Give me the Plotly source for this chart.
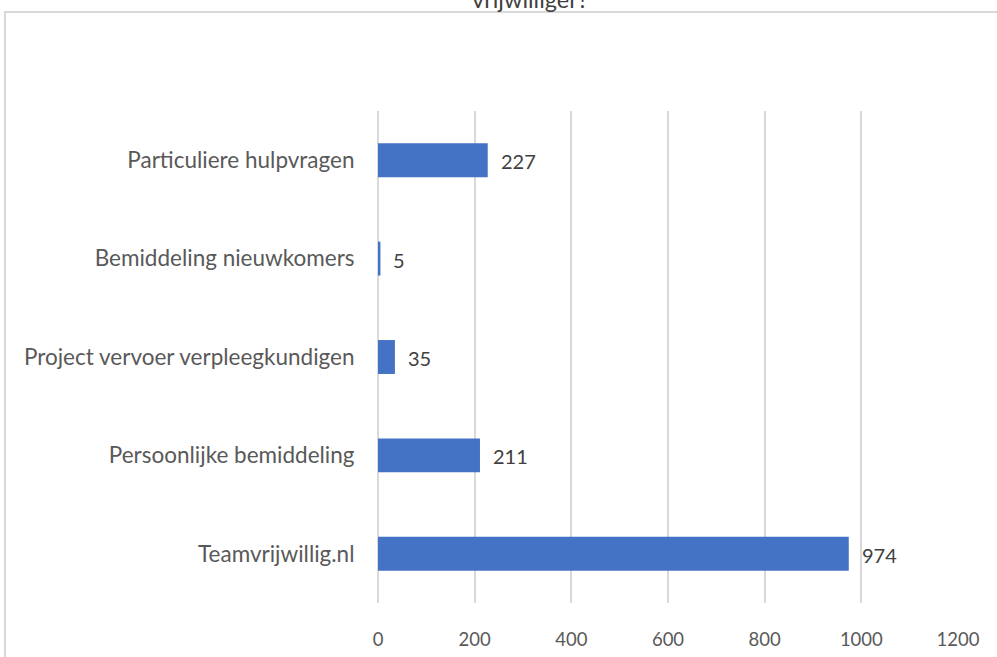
import plotly.graph_objects as go

categories = ["Teamvrijwillig.nl", "Persoonlijke bemiddeling", "Project vervoer verpleegkundigen",
              "Bemiddeling nieuwkomers", "Particuliere hulpvragen"]
values = [974, 211, 35, 5, 227]
x_ticks = [0, 200, 400, 600, 800, 1000, 1200]
title_text = "vrijwilliger?"

FONT = "Lato, 'Open Sans', sans-serif"

fig = go.Figure(go.Bar(
    y=categories, x=values, orientation="h",
    marker=dict(color="#4472C4", line=dict(width=0)),
    hoverinfo="x+y",
))

for c, v in zip(categories, values):
    fig.add_annotation(x=v, y=c, text=str(v), xref="x", yref="y",
                       xanchor="left", yanchor="middle", xshift=11, yshift=-1,
                       showarrow=False,
                       font=dict(family=FONT, size=20, color="#404040"))

fig.update_layout(
    width=997, height=657,
    margin=dict(l=378, r=39, t=111, b=54, autoexpand=False),
    paper_bgcolor="white", plot_bgcolor="white",
    bargap=0.655,
    showlegend=False,
    font=dict(family=FONT, size=20, color="#595959"),
    xaxis=dict(range=[0, 1200], tickvals=x_ticks, showgrid=True, gridcolor="#D9D9D9",
               gridwidth=1.5, zeroline=True, zerolinecolor="#D9D9D9", zerolinewidth=1.5,
               ticks="outside", ticklen=20, tickcolor="rgba(0,0,0,0)",
               tickfont=dict(size=18.5, color="#595959"), showline=False),
    yaxis=dict(categoryorder="array", categoryarray=categories, showgrid=False,
               zeroline=False, ticks="outside", ticklen=18, tickcolor="rgba(0,0,0,0)",
               tickfont=dict(size=22.5, color="#595959"), showline=False),
    shapes=[dict(type="rect", xref="paper", yref="paper",
                 x0=(5 - 378) / 580, x1=(1010 - 378) / 580,
                 y0=(603 - 670) / 492, y1=(603 - 12) / 492,
                 line=dict(color="#D9D9D9", width=2), fillcolor="rgba(0,0,0,0)", layer="below")],
)
fig.add_annotation(text=title_text, xref="paper", yref="paper",
                   x=(530 - 378) / 580, y=(603 - 15) / 492, xanchor="center", yanchor="bottom",
                   showarrow=False, font=dict(family=FONT, size=23.5, color="#404040"))

fig.write_html("out.html", config={"displayModeBar": False},
               post_script="document.body.style.margin='0';document.body.style.overflow='hidden';")
